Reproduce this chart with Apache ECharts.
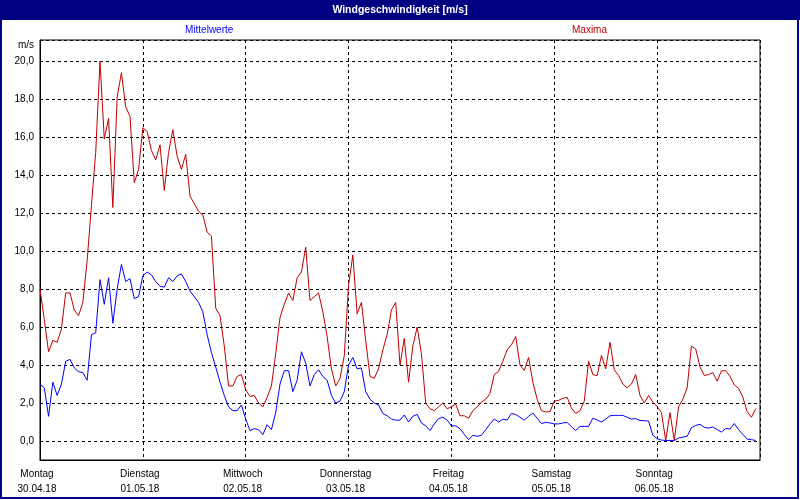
<!DOCTYPE html>
<html>
<head>
<meta charset="utf-8">
<script src="https://cdn.jsdelivr.net/npm/echarts@6/dist/echarts.min.js"></script>
<style>
html,body{margin:0;padding:0;background:#fff;}
#chart{width:800px;height:500px;}
</style>
</head>
<body>
<div id="chart"></div>
<script>
// Day labels (x axis, one per 24 h)
const dayNames = ['Montag', 'Dienstag', 'Mittwoch', 'Donnerstag', 'Freitag', 'Samstag', 'Sonntag'];
const dayDates = ['30.04.18', '01.05.18', '02.05.18', '03.05.18', '04.05.18', '05.05.18', '06.05.18'];
const titleText = 'Windgeschwindigkeit [m/s]';
const unitText = 'm/s';
const meanName = 'Mittelwerte';
const maxName = 'Maxima';

// Hourly values starting 30.04.18 00:00 (one row per day)
const meanValues = [
  3.0, 2.8, 1.3, 3.1, 2.4, 3.0, 4.2, 4.3, 3.85, 3.65, 3.6, 3.2, 5.6, 5.7, 8.5, 7.2, 8.6, 6.2, 8.0, 9.3, 8.4, 8.55, 7.5, 7.6,
  8.7, 8.9, 8.75, 8.4, 8.15, 8.1, 8.6, 8.4, 8.7, 8.8, 8.4, 7.9, 7.6, 7.3, 6.8, 5.6, 4.65, 3.9, 3.1, 2.4, 1.8, 1.6, 1.6, 1.9,
  1.15, 0.55, 0.65, 0.6, 0.33, 0.86, 0.6, 1.5, 3.0, 3.7, 3.7, 2.6, 3.2, 4.7, 4.1, 2.9, 3.5, 3.75, 3.4, 3.2, 2.4, 2.0, 2.1, 2.6,
  4.0, 4.4, 3.8, 3.85, 2.6, 2.2, 2.0, 1.9, 1.45, 1.33, 1.16, 1.1, 1.1, 1.37, 1.0, 1.3, 1.4, 0.95, 0.8, 0.55, 0.9, 1.18, 1.26, 1.1,
  0.8, 0.8, 0.65, 0.35, 0.07, 0.3, 0.25, 0.3, 0.6, 0.9, 1.16, 1.0, 1.15, 1.1, 1.45, 1.4, 1.25, 1.1, 1.3, 1.47, 1.2, 0.92, 0.98, 0.95,
  0.9, 0.9, 0.95, 0.98, 0.75, 0.55, 0.77, 0.77, 0.77, 1.2, 1.1, 1.0, 1.15, 1.33, 1.35, 1.35, 1.35, 1.25, 1.16, 1.18, 1.08, 1.07, 1.05, 0.3,
  0.12, 0.05, 0.03, 0.03, 0.03, 0.16, 0.2, 0.25, 0.7, 0.82, 0.88, 0.72, 0.68, 0.74, 0.6, 0.47, 0.66, 0.63, 0.92, 0.6, 0.35, 0.1, 0.07, 0.03
];
const maxValues = [
  8.0, 6.4, 4.7, 5.3, 5.2, 5.9, 7.8, 7.8, 6.9, 6.6, 7.3, 9.5, 12.4, 15.2, 20.0, 15.9, 17.0, 12.3, 18.1, 19.4, 17.6, 17.1, 13.6, 14.3,
  16.5, 16.3, 15.3, 14.8, 15.6, 13.2, 15.2, 16.4, 15.0, 14.3, 15.1, 12.9, 12.5, 12.1, 11.9, 11.0, 10.8, 7.0, 6.6, 5.0, 2.9, 2.9, 3.4, 3.5,
  2.7, 2.35, 2.4, 2.0, 1.8, 2.3, 2.9, 4.6, 6.5, 7.2, 7.8, 7.4, 8.6, 8.9, 10.2, 7.4, 7.6, 7.8, 6.8, 5.5, 3.8, 2.9, 3.3, 4.5,
  8.2, 9.8, 6.7, 7.3, 5.3, 3.4, 3.3, 3.8, 4.8, 5.6, 6.9, 7.3, 4.0, 5.4, 3.1, 5.0, 6.0, 4.6, 2.0, 1.7, 1.6, 1.8, 2.0, 1.7,
  1.8, 1.95, 1.33, 1.33, 1.2, 1.6, 1.8, 2.05, 2.2, 2.5, 3.5, 3.67, 4.2, 4.8, 5.07, 5.5, 4.0, 3.72, 4.4, 3.1, 2.2, 1.6, 1.53, 1.55,
  2.1, 2.14, 2.25, 2.3, 1.74, 1.45, 1.6, 2.1, 4.2, 3.5, 3.44, 4.5, 3.8, 5.2, 3.75, 3.45, 3.0, 2.8, 3.0, 3.5, 2.4, 2.0, 2.4, 2.05,
  1.82, 1.5, 0.03, 1.5, 0.03, 1.8, 2.2, 2.8, 5.0, 4.85, 3.9, 3.45, 3.5, 3.6, 3.15, 3.7, 3.7, 3.4, 2.95, 2.78, 2.3, 1.55, 1.25, 1.7
];

const FONT = '"Liberation Sans", Arial, sans-serif';
const chart = echarts.init(document.getElementById('chart'), null, {renderer: 'canvas'});

const dashed = {color: '#000', width: 1, type: [3, 3]};

chart.setOption({
  animation: false,
  backgroundColor: '#fff',
  grid: {left: 40, right: 40, top: 40, bottom: 40, show: true, borderColor: '#000', borderWidth: 1, containLabel: false},
  legend: [
    {data: [{name: meanName, textStyle: {color: '#0000ff'}}], left: 179, top: 25, padding: 0,
     itemWidth: 0, itemHeight: 0, selectedMode: false,
     textStyle: {fontFamily: FONT, fontSize: 10, color: '#0000ff'}},
    {data: [{name: maxName, textStyle: {color: '#c00000'}}], left: 566, top: 25, padding: 0,
     itemWidth: 0, itemHeight: 0, selectedMode: false,
     textStyle: {fontFamily: FONT, fontSize: 10, color: '#c00000'}}
  ],
  xAxis: {
    type: 'value', min: 0, max: 168, interval: 24,
    axisLine: {show: true, onZero: false, lineStyle: {color: '#000', width: 1}},
    axisTick: {show: false},
    splitLine: {show: true, lineStyle: dashed},
    axisLabel: {
      margin: 7, color: '#000', fontFamily: FONT, fontSize: 10, lineHeight: 15,
      showMaxLabel: false,
      padding: [0, 6, 0, 0],
      formatter: function (v) {
        const i = Math.round(v / 24);
        if (i < 0 || i >= dayNames.length) return '';
        return dayNames[i] + '\n' + dayDates[i];
      }
    }
  },
  yAxis: {
    type: 'value', min: -1, max: 21.12, splitNumber: 10, minInterval: 2, maxInterval: 2,
    axisLine: {show: true, onZero: false, lineStyle: {color: '#000', width: 1}},
    axisTick: {show: false},
    splitLine: {show: true, lineStyle: dashed},
    axisLabel: {
      margin: 6, color: '#000', fontFamily: FONT, fontSize: 10,
      showMinLabel: false, showMaxLabel: false,
      formatter: function (v) {
        if (v < -0.01 || v > 20.5 || Math.abs(v - Math.round(v)) > 1e-6) return '';
        return v.toFixed(1).replace('.', ',');
      }
    }
  },
  series: [
    {name: meanName, type: 'line', symbol: 'none', smooth: false, z: 3,
     lineStyle: {color: '#0000ff', width: 1}, itemStyle: {color: '#0000ff'},
     data: meanValues.map((v, i) => [i, v])},
    {name: maxName, type: 'line', symbol: 'none', smooth: false, z: 2,
     lineStyle: {color: '#c00000', width: 1}, itemStyle: {color: '#c00000'},
     data: maxValues.map((v, i) => [i, v])}
  ],
  graphic: [
    {type: 'rect', z: 100, shape: {x: 0, y: 0, width: 800, height: 20}, style: {fill: '#000080'}},
    {type: 'text', z: 101, x: 400, y: 10,
     style: {text: titleText, fill: '#fff', font: 'bold 10.5px ' + FONT, textAlign: 'center', textVerticalAlign: 'middle'}},
    {type: 'text', z: 101, x: 34, y: 45,
     style: {text: unitText, fill: '#000', font: '10px ' + FONT, textAlign: 'right', textVerticalAlign: 'middle'}},
    {type: 'rect', z: 100, shape: {x: 1, y: 1, width: 797, height: 497},
     style: {fill: 'none', stroke: '#000080', lineWidth: 2}}
  ]
});
</script>
</body>
</html>
